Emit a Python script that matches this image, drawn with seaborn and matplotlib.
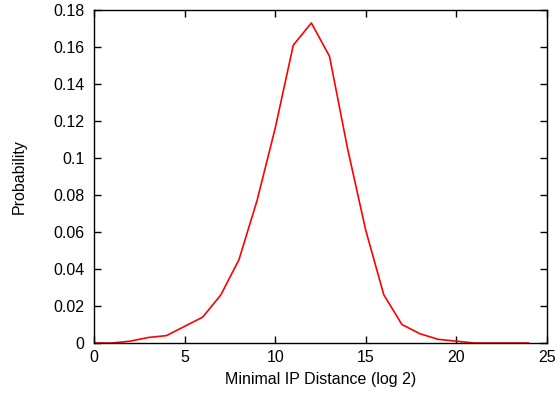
import pandas as pd
import matplotlib.pyplot as plt
import seaborn as sns

# Values
distance = list(range(0, 25))
probability = [0.0, 0.0, 0.001, 0.003, 0.004, 0.009, 0.014, 0.026, 0.045, 0.077,
               0.116, 0.161, 0.173, 0.155, 0.105, 0.061, 0.026, 0.010, 0.005, 0.002,
               0.001, 0.0, 0.0, 0.0, 0.0]

df = pd.DataFrame({'distance': distance, 'probability': probability})

sns.set_style('ticks', {'text.color': 'black', 'axes.labelcolor': 'black',
                        'xtick.color': 'black', 'ytick.color': 'black'})
plt.rcParams['font.family'] = ['Liberation Sans', 'DejaVu Sans']

fig = plt.figure(figsize=(5.58, 3.96), dpi=100)
ax = fig.add_axes([0.1685, 0.1338, 0.8115, 0.8409])

sns.lineplot(data=df, x='distance', y='probability', color='red', linewidth=1.2, ax=ax)

ax.set_xlim(0, 25)
ax.set_ylim(0, 0.18)
ax.set_xticks([0, 5, 10, 15, 20, 25])
ax.set_yticks([0, 0.02, 0.04, 0.06, 0.08, 0.1, 0.12, 0.14, 0.16, 0.18])
ax.set_yticklabels(['0', '0.02', '0.04', '0.06', '0.08', '0.1', '0.12', '0.14', '0.16', '0.18'])
ax.tick_params(direction='in', top=True, right=True, length=5, width=1, labelsize=11.5,
               colors='black')
ax.tick_params(axis='x', pad=5)
ax.tick_params(axis='y', pad=7)
for s in ax.spines.values():
    s.set_visible(True)
    s.set_linewidth(1)
    s.set_color('black')

ax.set_xlabel('Minimal IP Distance (log 2)', fontsize=11.5, labelpad=5, color='black')
ax.set_ylabel('Probability', fontsize=11.5, labelpad=19, color='black')

plt.savefig('out.png', dpi=100)
